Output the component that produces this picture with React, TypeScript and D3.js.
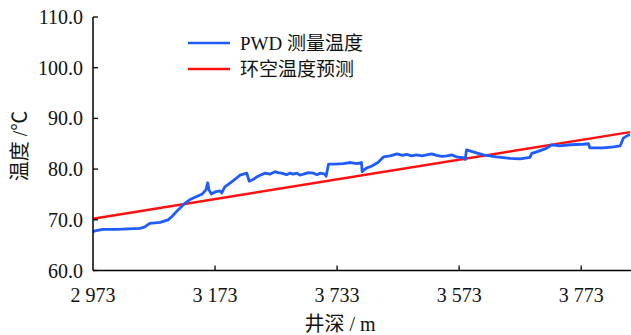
import React from "react";
import * as d3 from "d3";

// Measured temperature along the well (depth in m, temperature in °C)
const pwdDepth = [
  2973, 2976, 2989, 3012, 3050, 3058, 3066, 3083, 3096, 3102, 3112, 3124, 3132, 3143,
  3152, 3158, 3161, 3163, 3167, 3173, 3181, 3184, 3189, 3197, 3206, 3214, 3225, 3229,
  3236, 3242, 3247, 3255, 3263, 3271, 3276, 3282, 3290, 3296, 3301, 3307, 3312, 3318,
  3326, 3334, 3340, 3345, 3353, 3355, 3359, 3369, 3383, 3395, 3405, 3413, 3414, 3421,
  3430, 3440, 3449, 3460, 3471, 3480, 3487, 3495, 3503, 3512, 3520, 3528, 3536, 3545,
  3553, 3561, 3569, 3581, 3583, 3585, 3596, 3604, 3613, 3634, 3656, 3673, 3689, 3692,
  3700, 3716, 3725, 3738, 3755, 3776, 3785, 3787, 3809, 3826, 3837, 3842, 3850, 3853,
];
const pwdTemp = [
  67.65, 67.8, 68.1, 68.1, 68.3, 68.6, 69.3, 69.5, 70.0, 70.6, 71.9, 73.3, 74.0, 74.6,
  75.1, 75.9, 77.3, 75.9, 75.1, 75.5, 75.7, 75.3, 76.5, 77.2, 78.0, 78.8, 79.2, 77.6,
  78.0, 78.5, 78.8, 79.2, 79.0, 79.5, 79.3, 79.2, 78.9, 79.2, 79.0, 79.2, 78.8, 79.0,
  79.3, 79.2, 78.9, 79.2, 79.0, 78.6, 81.0, 81.0, 81.1, 81.3, 81.1, 81.3, 79.5, 80.2,
  80.6, 81.3, 82.4, 82.6, 83.0, 82.7, 82.9, 82.6, 82.8, 82.6, 82.8, 83.0, 82.7, 82.5,
  82.6, 82.8, 82.4, 82.2, 81.9, 83.8, 83.4, 83.1, 82.8, 82.4, 82.1, 82.0, 82.3, 83.1,
  83.4, 84.1, 84.8, 84.6, 84.8, 84.9, 85.0, 84.2, 84.2, 84.4, 84.6, 86.1, 86.7, 86.7,
];

// Predicted annulus temperature (linear trend)
const annDepth = [2973, 3853];
const annTemp = [70.2, 87.3];

// Axis ticks
const xTickValues = [2973, 3173, 3373, 3573, 3773];
const xTickLabels = ["2 973", "3 173", "3 733", "3 573", "3 773"];
const yTickValues = [60, 70, 80, 90, 100, 110];

const legendLabels = ["PWD 测量温度", "环空温度预测"];
const seriesColors = ["#1f5cff", "#ff1010"];

const W = 631;
const H = 335;
const margin = { left: 93, right: 1, top: 17, bottom: 64.5 };
const FONT = "'Liberation Serif', 'Times New Roman', 'Noto Sans CJK SC', serif";

export default function App() {
  const x = d3
    .scaleLinear()
    .domain([2973, 3853])
    .range([margin.left, W - margin.right]);
  const y = d3
    .scaleLinear()
    .domain([60, 110])
    .range([H - margin.bottom, margin.top]);

  const line = d3
    .line<[number, number]>()
    .x((d) => x(d[0]))
    .y((d) => y(d[1]));

  const pwd: [number, number][] = pwdDepth.map((d, i) => [d, pwdTemp[i]]);
  const ann: [number, number][] = annDepth.map((d, i) => [d, annTemp[i]]);

  const x0 = x(2973);
  const yBase = y(60);

  return (
    <svg
      width={W}
      height={H}
      style={{ position: "absolute", left: 0, top: 0, background: "#fff" }}
      fontFamily={FONT}
    >
      {/* data lines */}
      <path d={line(ann) || ""} fill="none" stroke={seriesColors[1]} strokeWidth={2.4} />
      <path
        d={line(pwd) || ""}
        fill="none"
        stroke={seriesColors[0]}
        strokeWidth={2.8}
        strokeLinejoin="round"
      />

      {/* axes */}
      <line x1={x0} x2={x0} y1={y(110)} y2={yBase} stroke="#000" strokeWidth={1.5} />
      <line x1={x0} x2={W} y1={yBase} y2={yBase} stroke="#000" strokeWidth={1.5} />

      {yTickValues.map((v) => (
        <g key={v}>
          <line x1={x0} x2={x0 + 5} y1={y(v)} y2={y(v)} stroke="#000" strokeWidth={1.3} />
          <text
            x={x0 - 10}
            y={y(v)}
            dy="0.35em"
            textAnchor="end"
            fontSize={20}
            fill="#111"
          >
            {v.toFixed(1)}
          </text>
        </g>
      ))}

      {xTickValues.map((v, i) => (
        <g key={v}>
          {i > 0 && (
            <line x1={x(v)} x2={x(v)} y1={yBase} y2={yBase - 5} stroke="#000" strokeWidth={1.3} />
          )}
          <text x={x(v)} y={302} textAnchor="middle" fontSize={20} fill="#111">
            {xTickLabels[i]}
          </text>
        </g>
      ))}

      {/* axis titles */}
      <text x={340} y={331} textAnchor="middle" fontSize={20} fill="#111">
        井深 / m
      </text>
      <text
        transform="translate(27,146) rotate(-90)"
        textAnchor="middle"
        fontSize={20}
        fill="#111"
      >
        温度 /℃
      </text>

      {/* legend */}
      {legendLabels.map((lab, i) => (
        <g key={lab} transform={`translate(188, ${43 + i * 26})`}>
          <line x1={0} x2={42} y1={0} y2={0} stroke={seriesColors[i]} strokeWidth={2.4} />
          <text x={52} y={0} dy="0.35em" fontSize={19} fill="#111">
            {lab}
          </text>
        </g>
      ))}
    </svg>
  );
}
